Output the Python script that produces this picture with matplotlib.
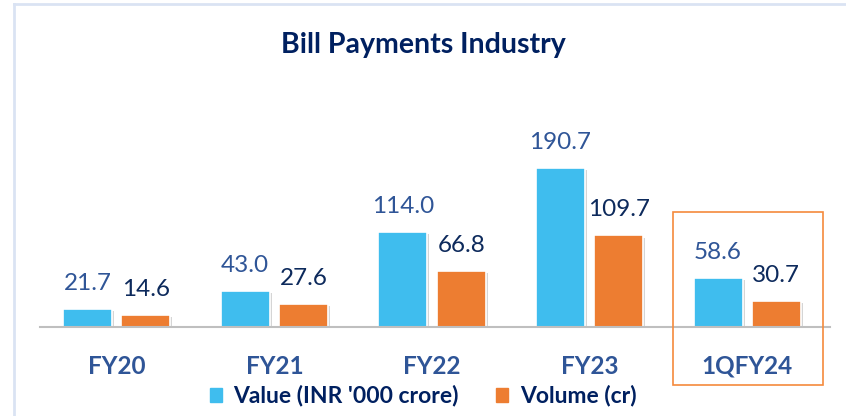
import numpy as np
import matplotlib.pyplot as plt
import matplotlib.patheffects as pe
from matplotlib.patches import Rectangle
from matplotlib.lines import Line2D

plt.rcParams['font.family'] = ['Lato', 'DejaVu Sans']

categories = ['FY20', 'FY21', 'FY22', 'FY23', '1QFY24']
value_inr = [21.7, 43.0, 114.0, 190.7, 58.6]
volume_cr = [14.6, 27.6, 66.8, 109.7, 30.7]
series_names = ["Value (INR '000 crore)", 'Volume (cr)']

blue = '#3FBDEE'
orange = '#ED7D31'
navy = '#0D2A5C'
steel = '#2F5597'

fig = plt.figure(figsize=(8.46, 4.16), dpi=100)

# light frame on the left and top
fig.add_artist(Line2D([14/846, 14/846], [0, 1 - 4/416], color='#DAE3F3', lw=2))
fig.add_artist(Line2D([14/846, 1], [1 - 4/416, 1 - 4/416], color='#DAE3F3', lw=2))

ax = fig.add_axes([40/846, 89/416, 790/846, 267/416])
x = np.arange(len(categories))
w = 0.31
shadow = [pe.SimplePatchShadow(offset=(1.5, -1.5), shadow_rgbFace='#777777', alpha=0.3), pe.Normal()]

b1 = ax.bar(x - 0.185, value_inr, w, color=blue, edgecolor='white', lw=1.2)
b2 = ax.bar(x + 0.185, volume_cr, w, color=orange, edgecolor='white', lw=1.2)
for b in list(b1) + list(b2):
    b.set_path_effects(shadow)

for xi, v in zip(x, value_inr):
    ax.annotate(f'{v:.1f}', (xi - 0.185, v), xytext=(0, 11), textcoords='offset points',
                ha='center', va='bottom', fontsize=17.5, color=steel)
for xi, v in zip(x, volume_cr):
    ax.annotate(f'{v:.1f}', (xi + 0.185, v), xytext=(0, 11), textcoords='offset points',
                ha='center', va='bottom', fontsize=17.5, color=navy)

ax.set_xlim(-0.487, 4.525)
ax.set_ylim(0, 320)
for s in ['top', 'right', 'left']:
    ax.spines[s].set_visible(False)
ax.spines['bottom'].set_color('#BFBFBF')
ax.spines['bottom'].set_linewidth(1.5)
ax.set_yticks([])
ax.set_xticks(x)
ax.set_xticklabels(categories, fontsize=17.5, fontweight='bold', color=steel)
ax.tick_params(axis='x', length=0, pad=20)

fig.text(0.5, 1 - 45/416, 'Bill Payments Industry', ha='center', va='center',
         fontsize=20.5, fontweight='bold', color='#002060')

# highlight box around latest quarter
fig.add_artist(Rectangle((673/846, 1 - 385/416), 150/846, 173/416, fill=False,
                         edgecolor='#F58A3C', lw=1.2))

handles = [Rectangle((0, 0), 1, 1, color=blue), Rectangle((0, 0), 1, 1, color=orange)]
fig.legend(handles, series_names, loc='center', bbox_to_anchor=(0.5, 1 - 396/416),
           ncol=2, frameon=False, handlelength=0.55, handleheight=0.6, handletextpad=0.5,
           columnspacing=1.6, prop={'weight': 'bold', 'size': 16.5}, labelcolor='#002060')

fig.savefig('out.png', dpi=100)
